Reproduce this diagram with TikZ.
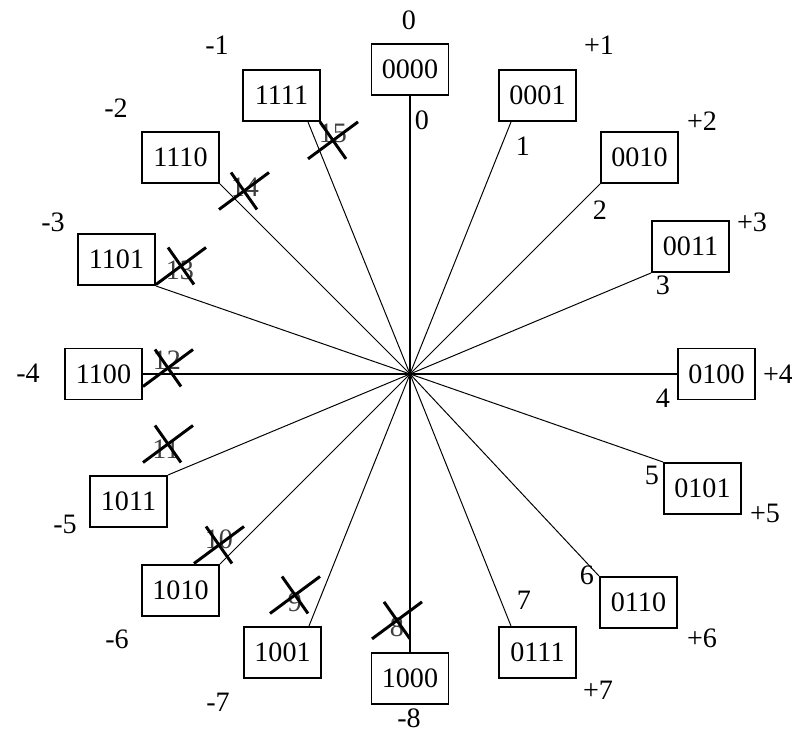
\documentclass[tikz,border=0pt]{standalone}
\usepackage{fontspec}
\setmainfont{Liberation Serif}
\usepackage{tikz}

% an X laid over a spoke
\newcommand{\crossout}[1]{\draw [cut] (#1) +(-0.625,-0.4625) -- +(0.625,0.4625)
                                        (#1) +(-0.325,0.4625) -- +(0.325,-0.4625);}

\begin{document}
\begin{tikzpicture} [every node/.style = {font=\fontsize{20}{24}\selectfont},
                     word/.style = {draw,
                                    rectangle,
                                    line width = 1.4pt,
                                    minimum width = 1.925cm,
                                    minimum height = 1.275cm,
                                    inner sep = 0pt},
                     spoke/.style = {line width = 0.7pt},
                     axis/.style = {line width = 1.4pt},
                     cut/.style = {line width = 2.1pt},
                     struck/.style = {text = black!75}]

	\useasboundingbox (-10.25,-9.05) rectangle (9.55,9.35);

	\coordinate (O) at (0,0);

	% ends of the spokes
	\coordinate (e0) at (0,6.95);
	\coordinate (e1) at (2.525,6.3);
	\coordinate (e2) at (4.75,4.75);
	\coordinate (e3) at (6.025,2.525);
	\coordinate (e4) at (6.675,0);
	\coordinate (e5) at (6.325,-2.2);
	\coordinate (e6) at (4.725,-5.05);
	\coordinate (e7) at (2.525,-6.3);
	\coordinate (e8) at (0,-6.95);
	\coordinate (e9) at (-2.525,-6.3);
	\coordinate (e10) at (-4.75,-4.75);
	\coordinate (e11) at (-6.05,-2.525);
	\coordinate (e12) at (-6.675,0);
	\coordinate (e13) at (-6.35,2.2);
	\coordinate (e14) at (-4.75,4.75);
	\coordinate (e15) at (-2.55,6.3);

	\draw [axis] (O) -- (e0);
	\draw [spoke] (O) -- (e1);
	\draw [spoke] (O) -- (e2);
	\draw [spoke] (O) -- (e3);
	\draw [axis] (O) -- (e4);
	\draw [spoke] (O) -- (e5);
	\draw [spoke] (O) -- (e6);
	\draw [spoke] (O) -- (e7);
	\draw [axis] (O) -- (e8);
	\draw [spoke] (O) -- (e9);
	\draw [spoke] (O) -- (e10);
	\draw [spoke] (O) -- (e11);
	\draw [axis] (O) -- (e12);
	\draw [spoke] (O) -- (e13);
	\draw [spoke] (O) -- (e14);
	\draw [spoke] (O) -- (e15);

	% the codes
	\node (b0) at (e0) [word, anchor=south] {0000};
	\node (b1) at (e1) [word, anchor=225] {0001};
	\node (b2) at (e2) [word, anchor=south west] {0010};
	\node (b3) at (e3) [word, anchor=south west] {0011};
	\node (b4) at (e4) [word, anchor=west] {0100};
	\node (b5) at (e5) [word, anchor=north west] {0101};
	\node (b6) at (e6) [word, anchor=north west] {0110};
	\node (b7) at (e7) [word, anchor=135] {0111};
	\node (b8) at (e8) [word, anchor=north] {1000};
	\node (b9) at (e9) [word, anchor=45] {1001};
	\node (b10) at (e10) [word, anchor=north east] {1010};
	\node (b11) at (e11) [word, anchor=north east] {1011};
	\node (b12) at (e12) [word, anchor=east] {1100};
	\node (b13) at (e13) [word, anchor=south east] {1101};
	\node (b14) at (e14) [word, anchor=south east] {1110};
	\node (b15) at (e15) [word, anchor=-45] {1111};

	% unsigned values
	\node (n0) at (0.3,6.35) {0};
	\node (n1) at (2.825,5.7) {1};
	\node (n2) at (4.75,4.1) {2};
	\node (n3) at (6.325,2.225) {3};
	\node (n4) at (6.325,-0.6) {4};
	\node (n5) at (6.05,-2.525) {5};
	\node (n6) at (4.425,-5.025) {6};
	\node (n7) at (2.85,-5.65) {7};
	\node (n8) at (-0.325,-6.325) [struck] {8};
	\node (n9) at (-2.875,-5.7) [struck] {9};
	\node (n10) at (-4.775,-4.125) [struck] {10};
	\node (n11) at (-6.1,-1.875) [struck] {11};
	\node (n12) at (-6.075,0.35) [struck] {12};
	\node (n13) at (-5.75,2.6) [struck] {13};
	\node (n14) at (-4.125,4.675) [struck] {14};
	\node (n15) at (-1.925,6.025) [struck] {15};

	\coordinate (x8) at (-0.325,-6.16);
	\coordinate (x9) at (-2.875,-5.525);
	\coordinate (x10) at (-4.775,-4.275);
	\coordinate (x11) at (-6.05,-1.75);
	\coordinate (x12) at (-6.05,0.15);
	\coordinate (x13) at (-5.725,2.7);
	\coordinate (x14) at (-4.15,4.575);
	\coordinate (x15) at (-1.925,5.84);

	\crossout{x8}
	\crossout{x9}
	\crossout{x10}
	\crossout{x11}
	\crossout{x12}
	\crossout{x13}
	\crossout{x14}
	\crossout{x15}

	% signed values
	\node (v0) at (-0.025,8.85) {0};
	\node (v1) at (4.725,8.225) {+1};
	\node (v2) at (7.3,6.325) {+2};
	\node (v3) at (8.55,3.8) {+3};
	\node (v4) at (9.2,0) {+4};
	\node (v5) at (8.875,-3.475) {+5};
	\node (v6) at (7.3,-6.6) {+6};
	\node (v7) at (4.7,-7.9) {+7};
	\node (v8) at (-0.025,-8.6) {-8};
	\node (v9) at (-4.8,-8.2) {-7};
	\node (v10) at (-7.325,-6.625) {-6};
	\node (v11) at (-8.625,-3.75) {-5};
	\node (v12) at (-9.55,0.025) {-4};
	\node (v13) at (-8.925,3.8) {-3};
	\node (v14) at (-7.35,6.65) {-2};
	\node (v15) at (-4.825,8.225) {-1};

\end{tikzpicture}
\end{document}
